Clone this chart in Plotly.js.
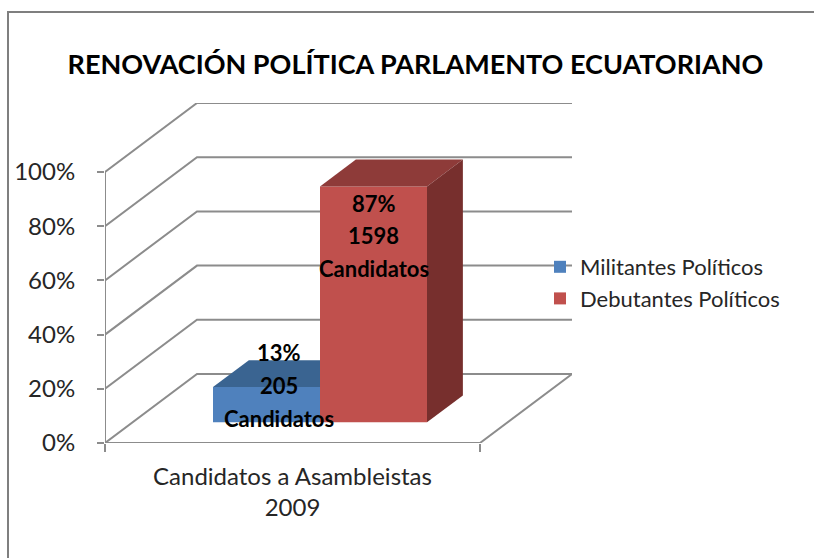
<!DOCTYPE html>
<html><head><meta charset="utf-8">
<script src="https://cdn.plot.ly/plotly-3.0.1.min.js"></script>
<style>html,body{margin:0;padding:0;background:#fff;overflow:hidden}</style>
</head><body><div id="chart" style="width:814px;height:558px"></div>
<script>
const chartTitle = 'RENOVACIÓN POLÍTICA PARLAMENTO ECUATORIANO';
const categoryLabel = 'Candidatos a Asambleistas<br>2009';
const seriesNames = ['Militantes Políticos', 'Debutantes Políticos'];
const sharePercent = [13, 87];
const candidateCounts = [205, 1598];
const unitLabel = 'Candidatos';
const yTicks = [0, 20, 40, 60, 80, 100];

const W = 814, H = 558;
const M = {l: 105, r: 242, t: 103, b: 115};
const plotW = W - M.l - M.r, plotH = H - M.t - M.b;
const pxPerX = 375, pxPerY = 2.71;
const xMax = plotW / pxPerX, yMax = plotH / pxPerY;
const dX = 92 / pxPerX, dY = 69 / pxPerY;     // oblique depth vector
const P = (x, d, v) => [x + d * dX, v + d * dY];
const gray = '#8c8c8c', font = 'Lato, "Open Sans", sans-serif';
const pathOf = pts => pts.map((p, i) => (i ? 'L' : 'M') + p[0] + ' ' + p[1]).join(' ');

const gridShape = pts => ({type: 'path', xref: 'x', yref: 'y', layer: 'below',
  path: pathOf(pts), line: {color: gray, width: 2}});
const shapes = yTicks.slice(1).map(v => gridShape([P(0,0,v), P(0,1,v), P(1,1,v)]));
shapes.push(gridShape([P(1,0,0), P(0,0,0), P(0,1,0), P(1,1,0), P(1,0,0)]));
shapes.push(gridShape([P(0,0,0), P(0,0,100)]));
// outer frame of the picture (left and top edges are visible)
const fx = (8 - M.l) / plotW, fy = (H - M.b - 12) / plotH, fb = -M.b / plotH, fr = (W - M.l) / plotW;
shapes.push({type: 'path', xref: 'paper', yref: 'paper', layer: 'below',
  path: `M${fx} ${fb} L${fx} ${fy} L${fr} ${fy}`, line: {color: '#7f7f7f', width: 2}});

const d0 = 0.30, d1 = 0.69, barW = 107 / pxPerX, x0 = 108 / pxPerX - d0 * dX;
const colors = [
  {front: '#4F81BD', top: '#3A6491', side: '#2F5178'},
  {front: '#C0504D', top: '#8E3B39', side: '#772F2D'}
];
const traces = [];
const annotations = [];
const labelDx = [12, 0];
const labelYs = [[35, 2, -31], [-17, -49, -82]];
sharePercent.forEach((v, i) => {
  const xa = i ? 'x2' : 'x', ya = i ? 'y2' : 'y';
  const a = x0 + i * barW, b = a + barW;
  const c = colors[i];
  const [fl, base] = P(a, d0, 0);
  traces.push({type: 'bar', name: seriesNames[i], x: [fl + barW / 2], y: [v], base: [base], width: [barW],
    marker: {color: c.front, line: {width: 0}}, xaxis: xa, yaxis: ya, legendgroup: 'g' + i, hoverinfo: 'skip'});
  const face = (pts, col) => traces.push({type: 'scatter', mode: 'lines', fill: 'toself', fillcolor: col,
    x: pts.map(p => p[0]), y: pts.map(p => p[1]), line: {width: 0, color: col},
    xaxis: xa, yaxis: ya, showlegend: false, hoverinfo: 'skip'});
  face([P(a,d0,v), P(b,d0,v), P(b,d1,v), P(a,d1,v), P(a,d0,v)], c.top);
  face([P(b,d0,0), P(b,d1,0), P(b,d1,v), P(b,d0,v), P(b,d0,0)], c.side);
  [sharePercent[i] + '%', String(candidateCounts[i]), unitLabel].forEach((t, k) => {
    annotations.push({xref: 'x', yref: 'y', x: fl + barW / 2, y: base + v, xshift: labelDx[i], yshift: labelYs[i][k],
      text: t, showarrow: false, font: {family: font, size: 22, color: '#000', weight: 700}});
  });
});

const layout = {
  width: W, height: H, margin: {l: M.l, r: M.r, t: M.t, b: M.b, pad: 0},
  paper_bgcolor: '#fff', plot_bgcolor: 'rgba(0,0,0,0)',
  barmode: 'overlay', showlegend: true,
  title: {text: chartTitle, x: 415.5 / W, xref: 'container', xanchor: 'center', y: 1 - 65 / H, yref: 'container', yanchor: 'middle',
    font: {family: font, size: 27, color: '#000', weight: 700}},
  xaxis: {range: [0, xMax], tickvals: [0.5], ticktext: [categoryLabel], ticks: '', showgrid: false, zeroline: false, showline: false,
    ticklabelstandoff: 17, tickfont: {family: font, size: 24, color: '#262626'}},
  xaxis2: {range: [0, xMax], overlaying: 'x', anchor: 'y2', side: 'bottom', tickvals: [0, 1], ticks: 'outside', ticklen: 8, tickwidth: 2, tickcolor: gray,
    showticklabels: false, showgrid: false, zeroline: false, showline: false},
  yaxis: {range: [0, yMax], tickvals: yTicks, ticktext: yTicks.map(v => v + '%'), ticks: 'outside', ticklen: 7, tickwidth: 2, tickcolor: gray,
    ticklabelstandoff: 17, showgrid: false, zeroline: false, showline: false, tickfont: {family: font, size: 24, color: '#262626'}},
  yaxis2: {range: [0, yMax], overlaying: 'y', anchor: 'x2', visible: false},
  legend: {x: (540 - M.l) / plotW, xanchor: 'left', y: (H - M.b - 246) / plotH, yanchor: 'top', bgcolor: 'rgba(0,0,0,0)', borderwidth: 0,
    tracegroupgap: 18, itemwidth: 30, traceorder: 'normal', font: {family: font, size: 22, color: '#262626'}},
  shapes, annotations
};
Plotly.newPlot('chart', traces, layout, {displayModeBar: false, staticPlot: true});
</script></body></html>
